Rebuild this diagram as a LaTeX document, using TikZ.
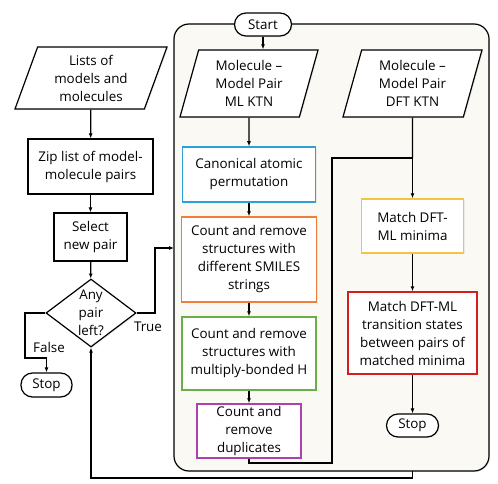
\documentclass[tikz,border=0pt]{standalone}
\usepackage{fontspec}
\setmainfont{Open Sans}
\usetikzlibrary{shapes.geometric,shadows,arrows.meta}

\definecolor{panel}{RGB}{251,249,243}
\definecolor{cblue}{RGB}{45,160,215}
\definecolor{corange}{RGB}{240,125,60}
\definecolor{cgreen}{RGB}{105,175,70}
\definecolor{cpurple}{RGB}{175,65,175}
\definecolor{cyellow}{RGB}{245,195,65}
\definecolor{cred}{RGB}{212,30,30}

\begin{document}
\begin{tikzpicture}[x=1pt, y=-1pt,
  every node/.style={font=\fontsize{13.4}{18}\selectfont, align=center, inner sep=0pt},
  shade/.style={drop shadow={opacity=0.12, shadow xshift=1.2pt, shadow yshift=-1.2pt}},
  box/.style={draw, line width=1.2pt, fill=white, shade},
  cbox/.style={draw=#1, line width=1.5pt, fill=white, shade},
  data/.style={trapezium, trapezium stretches body, draw, line width=1.2pt, fill=white, shade},
  term/.style={draw, line width=1.2pt, fill=white, rounded corners=11.5pt, shade},
  arr/.style={line width=1.2pt, -{Latex[length=5pt,width=4pt]}},
  line/.style={line width=1.2pt}]
\useasboundingbox (0,0) rectangle (498,484);

% Panel behind the pair workflow
\draw[line width=1.2pt, fill=panel, rounded corners=15pt, shade] (174,24) rectangle (489,471);

% Outer loop over the pairs
\node[data, trapezium left angle=64, trapezium right angle=116, minimum width=152pt, minimum height=62pt] (lists) at (91,78) {Lists of\\models and\\molecules};
\node[box, minimum width=125pt, minimum height=55pt] (zip) at (90.5,166.5) {Zip list of model-\\molecule pairs};
\node[box, minimum width=73pt, minimum height=48pt] (select) at (90.5,237) {Select\\new pair};
\node[diamond, draw, line width=1.2pt, fill=white, shade, minimum width=90pt, minimum height=68pt] (anyleft) at (91,313) {};
\node (anytext) at (anyleft) {Any\\pair\\left?};
\node[term, minimum width=51pt, minimum height=24pt] (stopA) at (46.5,385) {Stop};

% Pair workflow
\node[term, minimum width=57pt, minimum height=23pt] (start) at (263,24.5) {Start};
\node[data, trapezium left angle=68, trapezium right angle=112, minimum width=138pt, minimum height=67pt] (mlktn) at (249,83.5) {Molecule --\\Model Pair\\ML KTN};
\node[data, trapezium left angle=68, trapezium right angle=112, minimum width=139pt, minimum height=67pt] (dftktn) at (412.5,83.5) {Molecule --\\Model Pair\\DFT KTN};
\node[cbox=cblue, minimum width=133pt, minimum height=55pt] (canon) at (249,174.5) {Canonical atomic\\permutation};
\node[cbox=corange, minimum width=135pt, minimum height=85pt] (smiles) at (249,259.5) {Count and remove\\structures with\\different SMILES\\strings};
\node[cbox=cgreen, minimum width=134pt, minimum height=73pt] (hbond) at (249,353.5) {Count and remove\\structures with\\multiply-bonded H};
\node[cbox=cpurple, minimum width=104pt, minimum height=54pt] (dupl) at (249,431) {Count and\\remove\\duplicates};
\node[cbox=cyellow, minimum width=102pt, minimum height=54pt] (matchmin) at (412.5,226) {Match DFT-\\ML minima};
\node[cbox=cred, minimum width=129pt, minimum height=82pt] (matchts) at (412.5,333) {Match DFT-ML\\transition states\\between pairs of\\matched minima};
\node[term, minimum width=52pt, minimum height=23pt] (stopB) at (412.5,425.5) {Stop};

\coordinate (panelin) at (174,248);
\coordinate (panelout) at (412.5,471);
\coordinate (join) at (412.5,158);

% Connectors
\draw[arr] (lists) -- (zip);
\draw[arr] (zip) -- (select);
\draw[arr] (select) -- (anyleft);
\draw[arr] (anyleft.east) -- (155,313) |- (panelin);
\node (true) at (148,327) {True};
\draw[arr] (anyleft.west) -- (25,313) |- (46.5,358) -- (stopA);
\node (false) at (49,347) {False};
\draw[arr] (panelout) -- (412.5,478) -| (anyleft.south);

\draw[arr] (start.south) -- (start.south |- mlktn.north);
\draw[arr] (mlktn) -- (canon);
\draw[arr] (canon) -- (smiles);
\draw[arr] (smiles) -- (hbond);
\draw[arr] (hbond) -- (dupl);
\draw[line] (dupl.south) -- (249,463) -| (332,158) -- (join);
\draw[line] (dftktn.south) -- (join);
\draw[arr] (join) -- (matchmin);
\draw[arr] (matchmin) -- (matchts);
\draw[arr] (matchts) -- (stopB);
\end{tikzpicture}
\end{document}
